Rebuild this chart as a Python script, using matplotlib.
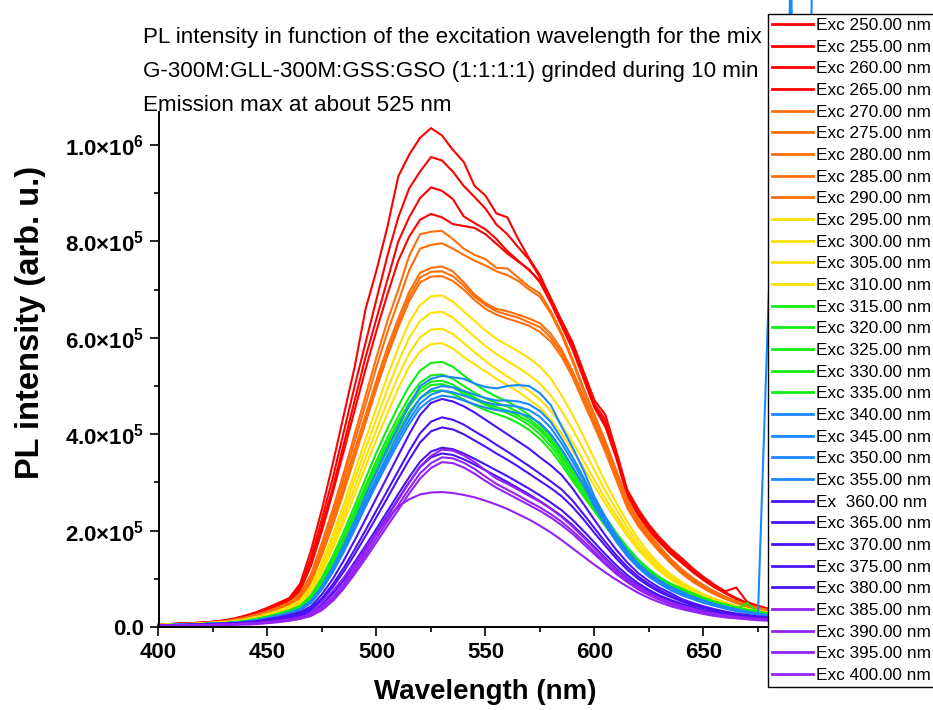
import numpy as np
import matplotlib
matplotlib.use('Agg')
import matplotlib.pyplot as plt
from matplotlib.lines import Line2D

plt.rcParams['font.family'] = ['Liberation Sans', 'DejaVu Sans']
plt.rcParams['mathtext.fontset'] = 'custom'
plt.rcParams['mathtext.rm'] = 'Liberation Sans'
plt.rcParams['mathtext.bf'] = 'Liberation Sans:bold'
plt.rcParams['mathtext.it'] = 'Liberation Sans:italic'

# emission wavelength grid (nm)
wavelength = np.arange(400, 701, 5)
UNIT = 1e3  # values below are in thousands of counts

exc_250 = [5, 6, 7, 8, 9, 11, 14, 18, 24, 31,
           40, 50, 60, 90, 160, 245, 340, 440, 540, 660,
           740, 830, 935, 980, 1015, 1035, 1020, 990, 965, 915,
           895, 858, 850, 805, 765, 730, 680, 635, 590, 530,
           470, 440, 365, 285, 245, 212, 185, 162, 143, 122,
           104, 88, 74, 82, 52, 44, 38, 34, 31, 29, 27]
exc_255 = [5, 6, 7, 8, 9, 11, 13, 17, 23, 30,
           38, 48, 57, 84, 145, 225, 310, 405, 500, 590,
           680, 770, 850, 910, 945, 975, 968, 945, 915, 892,
           868, 835, 815, 788, 762, 725, 682, 632, 585, 525,
           462, 430, 360, 280, 240, 208, 181, 158, 139, 119,
           101, 86, 72, 60, 50, 43, 37, 33, 30, 28, 26]
exc_260 = [5, 6, 7, 8, 9, 10, 13, 17, 22, 29,
           37, 46, 55, 79, 135, 210, 290, 380, 470, 560,
           640, 720, 800, 850, 890, 912, 905, 888, 852, 838,
           825, 805, 780, 760, 740, 718, 677, 628, 580, 520,
           458, 422, 355, 276, 236, 204, 178, 155, 136, 116,
           99, 84, 71, 59, 49, 42, 36, 32, 29, 27, 25]
exc_265 = [5, 6, 7, 7, 9, 10, 12, 16, 21, 28,
           35, 44, 53, 75, 128, 200, 280, 365, 450, 535,
           615, 690, 760, 810, 845, 857, 850, 836, 832, 828,
           815, 795, 775, 758, 742, 715, 672, 624, 575, 515,
           455, 415, 350, 272, 232, 200, 175, 152, 133, 114,
           97, 82, 70, 58, 48, 41, 36, 32, 29, 27, 25]
exc_270 = [5, 6, 6, 7, 8, 10, 12, 15, 20, 26,
           33, 41, 51, 68, 110, 175, 245, 320, 400, 480,
           560, 635, 700, 770, 815, 820, 822, 805, 785, 772,
           763, 745, 744, 725, 706, 692, 655, 610, 555, 495,
           440, 385, 325, 265, 225, 195, 166, 141, 120, 102,
           87, 74, 63, 54, 46, 40, 35, 31, 28, 26, 24]
exc_275 = [5, 6, 6, 7, 8, 10, 12, 15, 19, 25,
           32, 40, 50, 66, 105, 168, 235, 308, 385, 462,
           540, 612, 675, 740, 785, 793, 796, 785, 772, 760,
           750, 738, 730, 718, 700, 685, 650, 605, 550, 490,
           435, 380, 320, 260, 221, 191, 163, 139, 118, 100,
           85, 72, 62, 53, 45, 39, 34, 30, 27, 25, 23]
exc_280 = [5, 5, 6, 7, 8, 9, 11, 14, 18, 24,
           31, 39, 48, 63, 100, 160, 225, 295, 368, 440,
           512, 580, 640, 695, 735, 745, 748, 738, 715, 690,
           672, 660, 655, 648, 640, 630, 608, 575, 530, 478,
           425, 372, 314, 255, 216, 187, 160, 136, 115, 98,
           83, 71, 60, 52, 44, 38, 33, 30, 27, 25, 23]
exc_285 = [5, 5, 6, 7, 8, 9, 11, 14, 18, 23,
           30, 38, 47, 61, 96, 154, 218, 287, 360, 432,
           503, 570, 630, 685, 725, 737, 738, 728, 708, 685,
           668, 655, 648, 642, 632, 622, 600, 568, 525, 472,
           420, 368, 310, 251, 213, 184, 157, 134, 113, 96,
           82, 70, 59, 51, 43, 37, 33, 29, 26, 24, 22]
exc_290 = [5, 5, 6, 7, 8, 9, 11, 13, 17, 23,
           29, 37, 46, 59, 93, 150, 212, 280, 352, 424,
           495, 562, 622, 676, 715, 727, 728, 718, 700, 678,
           660, 648, 640, 633, 625, 612, 592, 560, 518, 466,
           415, 363, 305, 247, 210, 181, 155, 132, 111, 94,
           80, 68, 58, 50, 42, 36, 32, 29, 26, 24, 22]
exc_295 = [5, 5, 6, 6, 7, 9, 10, 13, 16, 21,
           27, 34, 43, 55, 85, 135, 192, 255, 322, 390,
           455, 520, 580, 632, 668, 686, 688, 675, 655, 635,
           615, 598, 585, 572, 558, 540, 515, 480, 440, 395,
           348, 300, 258, 218, 183, 154, 129, 109, 93, 80,
           68, 59, 51, 44, 38, 34, 30, 27, 25, 23, 21]
exc_300 = [4, 5, 6, 6, 7, 8, 10, 12, 16, 20,
           26, 33, 41, 52, 80, 127, 182, 242, 306, 370,
           432, 493, 550, 600, 635, 652, 654, 642, 622, 602,
           583, 566, 552, 538, 523, 505, 480, 448, 410, 368,
           325, 282, 244, 207, 174, 147, 124, 105, 90, 77,
           66, 57, 49, 43, 37, 33, 29, 26, 24, 22, 20]
exc_305 = [4, 5, 5, 6, 7, 8, 10, 12, 15, 19,
           25, 31, 39, 49, 76, 120, 172, 229, 290, 351,
           410, 467, 521, 568, 601, 617, 619, 608, 589, 570,
           552, 535, 520, 505, 490, 472, 448, 418, 383, 344,
           305, 266, 231, 197, 166, 141, 119, 101, 87, 74,
           64, 55, 48, 42, 36, 32, 28, 26, 23, 21, 20]
exc_310 = [4, 5, 5, 6, 7, 8, 9, 11, 14, 18,
           24, 30, 37, 47, 72, 114, 163, 217, 275, 333,
           389, 443, 495, 540, 572, 587, 589, 578, 560, 545,
           530, 515, 502, 488, 472, 455, 430, 400, 366, 330,
           292, 255, 222, 189, 160, 136, 115, 98, 84, 72,
           62, 54, 47, 41, 35, 31, 28, 25, 23, 21, 19]
exc_315 = [4, 4, 5, 5, 6, 7, 8, 10, 13, 17,
           22, 28, 35, 44, 66, 103, 148, 198, 252, 308,
           362, 412, 458, 500, 532, 548, 550, 540, 522, 505,
           490, 478, 468, 455, 440, 420, 395, 362, 328, 295,
           262, 228, 195, 166, 140, 120, 103, 90, 80, 70,
           61, 53, 47, 41, 36, 32, 28, 25, 23, 21, 20]
exc_320 = [4, 4, 5, 5, 6, 7, 8, 10, 12, 16,
           21, 27, 33, 42, 63, 98, 141, 189, 241, 294,
           345, 393, 437, 477, 507, 522, 524, 515, 500, 486,
           474, 465, 457, 446, 432, 413, 388, 356, 322, 288,
           255, 222, 190, 162, 137, 117, 101, 88, 78, 68,
           59, 52, 46, 40, 35, 31, 27, 25, 22, 21, 19]
exc_325 = [4, 4, 5, 5, 6, 7, 8, 9, 12, 16,
           21, 26, 32, 41, 60, 94, 136, 183, 234, 286,
           336, 383, 426, 465, 494, 509, 511, 503, 489, 476,
           465, 456, 449, 439, 426, 408, 383, 352, 318, 284,
           251, 218, 187, 159, 134, 115, 99, 86, 76, 66,
           58, 51, 45, 39, 34, 30, 27, 24, 22, 20, 19]
exc_330 = [4, 4, 5, 5, 6, 7, 8, 9, 12, 15,
           20, 25, 31, 40, 59, 92, 133, 179, 229, 281,
           330, 376, 419, 458, 487, 502, 504, 497, 484, 472,
           461, 452, 444, 433, 419, 400, 375, 344, 310, 277,
           245, 213, 183, 156, 132, 113, 97, 84, 74, 65,
           57, 50, 44, 38, 33, 30, 26, 24, 22, 20, 18]
exc_335 = [4, 4, 5, 5, 6, 7, 8, 9, 11, 15,
           20, 25, 31, 39, 57, 89, 129, 174, 222, 273,
           321, 366, 408, 446, 474, 489, 491, 484, 472, 460,
           450, 442, 434, 423, 409, 390, 366, 336, 303, 271,
           240, 209, 180, 153, 129, 111, 95, 83, 73, 64,
           56, 49, 43, 37, 50, 29, 26, 24, 21, 20, 18]
exc_340 = [4, 4, 5, 5, 6, 7, 8, 9, 11, 14,
           19, 24, 30, 38, 55, 85, 125, 170, 220, 272,
           322, 370, 415, 460, 500, 515, 521, 518, 515, 505,
           498, 495, 500, 502, 500, 485, 460, 415, 372, 325,
           270, 228, 190, 158, 132, 112, 96, 83, 73, 63,
           55, 48, 42, 37, 32, 28, 700, 23, 21, 19, 18]
exc_345 = [4, 4, 5, 5, 6, 7, 8, 9, 11, 14,
           18, 23, 29, 37, 53, 82, 120, 164, 212, 262,
           310, 356, 400, 440, 475, 493, 500, 497, 490, 482,
           475, 470, 470, 468, 462, 448, 425, 390, 352, 310,
           262, 222, 185, 154, 128, 108, 93, 80, 70, 61,
           53, 46, 40, 35, 31, 27, 24, 22, 1400, 19, 17]
exc_350 = [4, 4, 5, 5, 6, 7, 8, 9, 11, 14,
           18, 23, 28, 36, 52, 80, 117, 160, 207, 256,
           303, 348, 391, 430, 464, 482, 490, 487, 480, 472,
           466, 461, 460, 457, 450, 436, 413, 380, 343, 303,
           257, 218, 181, 151, 126, 106, 91, 78, 68, 59,
           51, 45, 39, 34, 30, 27, 24, 22, 20, 19, 1400]
exc_355 = [4, 4, 5, 5, 6, 7, 8, 9, 11, 13,
           18, 22, 28, 35, 50, 78, 114, 156, 202, 250,
           296, 340, 382, 421, 454, 472, 480, 477, 470, 462,
           455, 450, 448, 444, 437, 423, 400, 368, 332, 294,
           250, 212, 177, 147, 123, 104, 89, 76, 66, 58,
           50, 44, 38, 33, 29, 26, 23, 21, 19, 18, 17]
exc_360 = [3, 4, 4, 5, 5, 6, 7, 8, 10, 12,
           16, 20, 25, 31, 43, 68, 100, 138, 180, 224,
           268, 312, 356, 400, 440, 465, 473, 468, 458, 445,
           430, 415, 400, 385, 370, 352, 335, 315, 287, 255,
           222, 190, 160, 134, 112, 95, 81, 70, 58, 50,
           43, 37, 32, 28, 25, 22, 20, 18, 17, 16, 15]
exc_365 = [3, 4, 4, 5, 5, 6, 7, 8, 9, 11,
           15, 18, 23, 28, 39, 60, 89, 123, 161, 201,
           242, 283, 324, 365, 402, 426, 435, 430, 420, 406,
           393, 378, 364, 349, 334, 318, 302, 285, 262, 234,
           205, 176, 149, 125, 105, 89, 76, 65, 55, 47,
           40, 35, 30, 26, 23, 21, 19, 17, 16, 15, 14]
exc_370 = [3, 3, 4, 4, 5, 6, 6, 7, 9, 11,
           14, 17, 21, 26, 36, 56, 83, 115, 151, 189,
           228, 268, 308, 347, 383, 406, 414, 410, 400, 387,
           374, 360, 347, 333, 318, 303, 288, 271, 249, 223,
           195, 168, 142, 119, 100, 85, 72, 62, 53, 45,
           39, 33, 29, 25, 22, 20, 18, 17, 15, 14, 13]
exc_375 = [3, 3, 4, 4, 5, 5, 6, 7, 8, 10,
           12, 15, 19, 23, 32, 49, 73, 102, 135, 169,
           204, 240, 276, 311, 343, 364, 372, 369, 360, 349,
           337, 325, 313, 300, 287, 273, 258, 242, 222, 199,
           175, 151, 128, 108, 91, 77, 65, 56, 48, 41,
           35, 30, 26, 23, 20, 18, 17, 15, 14, 13, 12]
exc_380 = [3, 3, 4, 4, 4, 5, 6, 7, 8, 9,
           12, 14, 18, 22, 30, 46, 69, 97, 129, 162,
           196, 231, 266, 300, 332, 352, 360, 357, 348, 337,
           325, 313, 301, 288, 275, 261, 246, 230, 211, 189,
           166, 143, 121, 102, 86, 73, 62, 53, 45, 39,
           33, 29, 25, 22, 19, 17, 16, 15, 14, 13, 12]
exc_385 = [3, 3, 3, 4, 4, 5, 5, 6, 7, 8,
           10, 13, 16, 20, 27, 41, 62, 90, 122, 156,
           192, 228, 264, 300, 333, 355, 368, 366, 356, 342,
           325, 308, 297, 285, 272, 260, 245, 228, 208, 186,
           163, 140, 119, 100, 84, 71, 60, 51, 44, 38,
           32, 28, 24, 21, 19, 17, 15, 14, 13, 12, 11]
exc_390 = [3, 3, 3, 4, 4, 4, 5, 6, 7, 8,
           10, 12, 15, 19, 25, 38, 58, 85, 116, 149,
           184, 219, 253, 287, 319, 340, 352, 350, 341, 328,
           312, 297, 285, 273, 260, 248, 234, 218, 199, 178,
           156, 134, 114, 96, 81, 68, 58, 49, 42, 36,
           31, 27, 23, 20, 18, 16, 15, 14, 13, 12, 11]
exc_395 = [3, 3, 3, 3, 4, 4, 5, 5, 6, 7,
           9, 11, 14, 17, 23, 35, 54, 80, 110, 142,
           176, 210, 243, 277, 308, 330, 342, 340, 331, 318,
           303, 289, 277, 265, 253, 241, 227, 211, 193, 172,
           151, 130, 110, 93, 78, 66, 56, 47, 40, 35,
           30, 26, 22, 19, 17, 15, 14, 13, 12, 11, 10]
exc_400 = [2, 2, 3, 3, 3, 4, 4, 5, 5, 6,
           8, 10, 13, 17, 30, 50, 75, 102, 130, 165,
           195, 225, 250, 265, 275, 279, 280, 278, 274, 269,
           262, 254, 245, 234, 223, 210, 196, 180, 163, 146,
           129, 113, 98, 84, 71, 60, 51, 43, 37, 32,
           27, 23, 20, 18, 16, 14, 13, 12, 11, 10, 10]

series = [exc_250, exc_255, exc_260, exc_265, exc_270, exc_275, exc_280,
          exc_285, exc_290, exc_295, exc_300, exc_305, exc_310, exc_315,
          exc_320, exc_325, exc_330, exc_335, exc_340, exc_345, exc_350,
          exc_355, exc_360, exc_365, exc_370, exc_375, exc_380, exc_385,
          exc_390, exc_395, exc_400]

labels = ['Exc 250.00 nm', 'Exc 255.00 nm', 'Exc 260.00 nm', 'Exc 265.00 nm',
          'Exc 270.00 nm', 'Exc 275.00 nm', 'Exc 280.00 nm', 'Exc 285.00 nm',
          'Exc 290.00 nm', 'Exc 295.00 nm', 'Exc 300.00 nm', 'Exc 305.00 nm',
          'Exc 310.00 nm', 'Exc 315.00 nm', 'Exc 320.00 nm', 'Exc 325.00 nm',
          'Exc 330.00 nm', 'Exc 335.00 nm', 'Exc 340.00 nm', 'Exc 345.00 nm',
          'Exc 350.00 nm', 'Exc 355.00 nm', 'Ex  360.00 nm', 'Exc 365.00 nm',
          'Exc 370.00 nm', 'Exc 375.00 nm', 'Exc 380.00 nm', 'Exc 385.00 nm',
          'Exc 390.00 nm', 'Exc 395.00 nm', 'Exc 400.00 nm']

RED, ORANGE, YELLOW, GREEN = '#FF0000', '#FF6E0A', '#FFE000', '#14EB14'
BLUE, INDIGO, VIOLET = '#1A88FF', '#4A12F5', '#9422F5'
colors = [RED] * 4 + [ORANGE] * 5 + [YELLOW] * 4 + [GREEN] * 5 + \
         [BLUE] * 4 + [INDIGO] * 5 + [VIOLET] * 4

yticks = [0, 2e5, 4e5, 6e5, 8e5, 1e6]
yticklabels = ['0.0',
               r'$\mathbf{2.0{\times}10^{5}}$',
               r'$\mathbf{4.0{\times}10^{5}}$',
               r'$\mathbf{6.0{\times}10^{5}}$',
               r'$\mathbf{8.0{\times}10^{5}}$',
               r'$\mathbf{1.0{\times}10^{6}}$']
xticks = [400, 450, 500, 550, 600, 650, 700]
# the 700 label sits under the legend box in the reference
xticklabels = ['400', '450', '500', '550', '600', '650', '']

title_lines = ['PL intensity in function of the excitation wavelength for the mix',
               'G-300M:GLL-300M:GSS:GSO (1:1:1:1) grinded during 10 min',
               'Emission max at about 525 nm']

W, H = 933, 710
fig = plt.figure(figsize=(W / 100, H / 100), dpi=100)
ax = fig.add_axes([158.5 / W, 1 - 627 / H, (812.5 - 158.5) / W, (627 - 112) / H])

for vals, c in zip(series, colors):
    ax.plot(wavelength, np.array(vals) * UNIT, color=c, lw=1.5, clip_on=False)

ax.set_xlim(400, 700)
ax.set_ylim(0, 1.0685e6)
ax.set_xticks(xticks)
ax.set_xticklabels(xticklabels)
ax.set_xticks([425, 475, 525, 575, 625, 675], minor=True)
ax.set_yticks(yticks)
ax.set_yticklabels(yticklabels)
ax.set_yticks([1e5, 3e5, 5e5, 7e5, 9e5], minor=True)

for s in ['top', 'right']:
    ax.spines[s].set_visible(False)
for s in ['left', 'bottom']:
    ax.spines[s].set_linewidth(1.4)

ax.tick_params(which='major', direction='out', length=6.5, width=1.2,
               labelsize=16, pad=4)
ax.tick_params(which='minor', direction='out', length=3.5, width=1.2)
for lab in ax.get_xticklabels() + ax.get_yticklabels():
    lab.set_fontweight('bold')

ax.set_xlabel('Wavelength (nm)', fontsize=20, fontweight='bold')
ax.set_ylabel('PL intensity (arb. u.)', fontsize=23.5, fontweight='bold')
ax.xaxis.set_label_coords(0.5, -0.101)
ax.yaxis.set_label_coords(-0.196, 0.592)
ax.yaxis.label.set_va('center')

for i, line in enumerate(title_lines):
    fig.text(143 / W, 1 - (43 + 34 * i) / H, line, fontsize=16.1,
             ha='left', va='baseline')

handles = [Line2D([], [], color=c, lw=2) for c in colors]
leg = fig.legend(handles, labels, loc='upper left',
                 bbox_to_anchor=(768 / W, 1 - 14 / H), borderaxespad=0,
                 fontsize=12.4, frameon=True, fancybox=False,
                 edgecolor='black', framealpha=1, handlelength=2.38,
                 handletextpad=0.15, labelspacing=0.384, borderpad=0.23)
leg.get_frame().set_linewidth(1.0)

fig.savefig('out.png', dpi=100)
